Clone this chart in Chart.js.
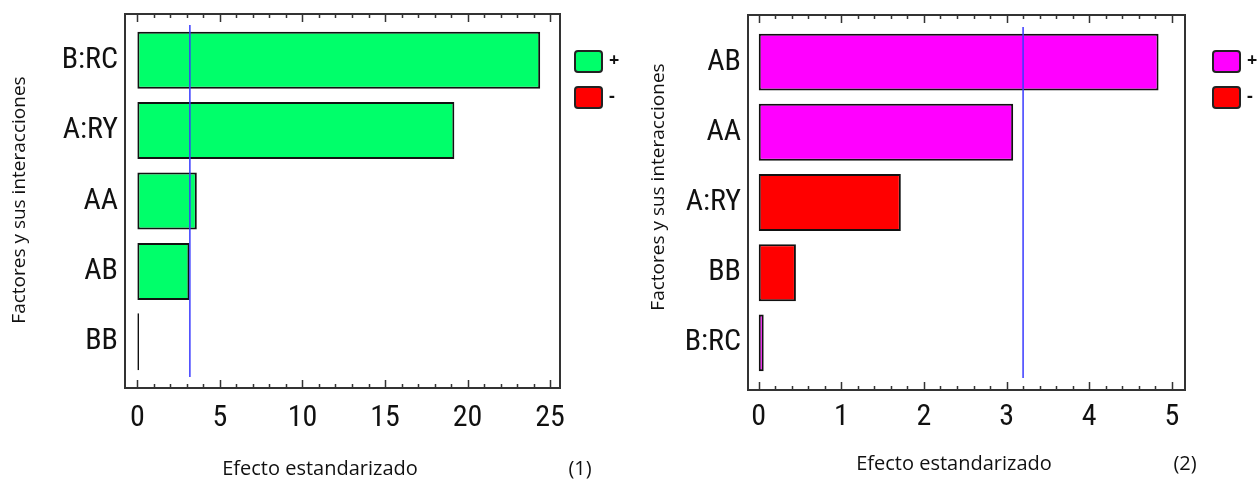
<!DOCTYPE html>
<html>
<head>
<meta charset="utf-8">
<script src="https://cdn.jsdelivr.net/npm/chart.js@4.4.1/dist/chart.umd.min.js"></script>
<style>
  body { margin: 0; background: #fff; width: 1259px; height: 480px; position: relative; overflow: hidden; }
  canvas { position: absolute; top: 0; }
</style>
</head>
<body>
<canvas id="c1" width="620" height="480" style="left:0"></canvas>
<canvas id="c2" width="639" height="480" style="left:620px"></canvas>
<script>
// chart (1)
const factors1 = ['B:RC', 'A:RY', 'AA', 'AB', 'BB'];
const effects1 = [24.4, 19.2, 3.6, 3.15, 0.1];
const signs1 = ['+', '+', '+', '+', '+'];
const xTicks1 = [0, 5, 10, 15, 20, 25];
const critical1 = 3.18;

// chart (2)
const factors2 = ['AB', 'AA', 'A:RY', 'BB', 'B:RC'];
const effects2 = [4.84, 3.08, 1.72, 0.45, 0.06];
const signs2 = ['+', '+', '-', '-', '+'];
const xTicks2 = [0, 1, 2, 3, 4, 5];
const critical2 = 3.2;

const body = '"Open Sans", "Noto Sans", sans-serif';
// narrow labels: Roboto's condensed width, passed through the weight slot
const narrowFont = { family: 'Roboto', weight: 'condensed', size: 30 };

// frame with inward ticks, critical line, titles, legend
const paretoDeco = {
  id: 'paretoDeco',
  afterDatasetsDraw(chart, args, o) {
    const { ctx, chartArea: a } = chart;
    const x = chart.scales.x;
    const top = a.top - o.extra, bottom = a.bottom + o.extra;
    ctx.save();
    ctx.strokeStyle = '#333';
    ctx.lineWidth = 2;
    ctx.strokeRect(a.left, top, a.right - a.left, bottom - top);
    ctx.lineWidth = 1.5;
    const first = o.ticks[0], last = o.ticks[o.ticks.length - 1];
    for (let v = first; v <= last + 1e-9; v += o.minor) {
      const major = o.ticks.some(t => Math.abs(t - v) < 1e-6);
      const len = major ? 8 : 4;
      const px = Math.round(x.getPixelForValue(v)) + 0.5;
      ctx.beginPath();
      ctx.moveTo(px, bottom); ctx.lineTo(px, bottom - len);
      ctx.moveTo(px, top); ctx.lineTo(px, top + len);
      ctx.stroke();
    }
    // critical value
    const cx = x.getPixelForValue(o.critical);
    ctx.strokeStyle = '#3a3aff';
    ctx.lineWidth = 1.5;
    ctx.beginPath();
    ctx.moveTo(cx, a.top); ctx.lineTo(cx, a.bottom);
    ctx.stroke();
    ctx.restore();
  },
  afterDraw(chart, args, o) {
    const { ctx } = chart;
    ctx.save();
    ctx.fillStyle = '#111';
    ctx.textAlign = 'center';
    ctx.textBaseline = 'middle';
    ctx.font = '20px ' + body;
    ctx.fillText('Efecto estandarizado', o.xTitle[0], o.xTitle[1]);
    ctx.fillText(o.tag, o.tagPos[0], o.tagPos[1]);
    ctx.save();
    ctx.translate(o.yTitle[0], o.yTitle[1]);
    ctx.rotate(-Math.PI / 2);
    ctx.font = o.yTitleSize + 'px ' + body;
    ctx.fillText('Factores y sus interacciones', 0, 0);
    ctx.restore();
    // legend
    chart.data.datasets.forEach((ds, i) => {
      const bx = o.legendX, by = 51 + i * 36;
      ctx.fillStyle = ds.backgroundColor;
      ctx.strokeStyle = '#222';
      ctx.lineWidth = 2;
      ctx.beginPath();
      ctx.roundRect(bx, by, 27, 21, 3);
      ctx.fill();
      ctx.stroke();
      ctx.fillStyle = '#111';
      ctx.font = 'bold 18px ' + body;
      ctx.textAlign = 'left';
      ctx.fillText(ds.label, bx + 34, by + 10);
    });
    ctx.restore();
  }
};

function makeChart(id, factors, effects, signs, xTicks, posColor, cfg) {
  const pos = effects.map((v, i) => signs[i] === '+' ? v : null);
  const neg = effects.map((v, i) => signs[i] === '-' ? v : null);
  const common = { borderColor: '#111', borderWidth: 2, borderSkipped: false,
                   grouped: false, barPercentage: 0.81, categoryPercentage: 1 };
  return new Chart(document.getElementById(id), {
    type: 'bar',
    data: {
      labels: factors,
      datasets: [
        Object.assign({ label: '+', data: pos, backgroundColor: posColor }, common),
        Object.assign({ label: '-', data: neg, backgroundColor: '#ff0000' }, common)
      ]
    },
    options: {
      indexAxis: 'y',
      responsive: false,
      animation: false,
      devicePixelRatio: 1,
      layout: { padding: { left: 0, right: cfg.padRight, top: cfg.top, bottom: 0 } },
      scales: {
        x: {
          type: 'linear', min: cfg.min, max: cfg.max,
          afterBuildTicks: s => { s.ticks = xTicks.map(v => ({ value: v })); },
          afterFit: s => { s.height = cfg.xH; },
          grid: { display: false, drawTicks: false },
          border: { display: false },
          ticks: { padding: cfg.tickPad, color: '#111', font: narrowFont }
        },
        y: {
          type: 'category',
          afterFit: s => { s.width = cfg.yW; },
          grid: { display: false, drawTicks: false },
          border: { display: false },
          ticks: { padding: 7, color: '#111', font: narrowFont }
        }
      },
      plugins: {
        legend: { display: false },
        tooltip: { enabled: false },
        paretoDeco: cfg.deco
      }
    },
    plugins: [paretoDeco]
  });
}

makeChart('c1', factors1, effects1, signs1, xTicks1, '#00ff6a', {
  min: -0.75, max: 25.6, padRight: 60, top: 25, xH: 103, yW: 125, tickPad: 23,
  deco: { extra: 11, ticks: xTicks1, minor: 1, critical: critical1, yTitleSize: 19,
          xTitle: [320, 469], yTitle: [20, 200], tag: '(1)', tagPos: [580, 469], legendX: 575 }
});

makeChart('c2', factors2, effects2, signs2, xTicks2, '#ff00ff', {
  min: -0.13, max: 5.16, padRight: 74, top: 27, xH: 102, yW: 128, tickPad: 21,
  deco: { extra: 12, ticks: xTicks2, minor: 0.2, critical: critical2, yTitleSize: 19,
          xTitle: [334, 464], yTitle: [39, 187], tag: '(2)', tagPos: [565, 464], legendX: 593 }
});
</script>
</body>
</html>
